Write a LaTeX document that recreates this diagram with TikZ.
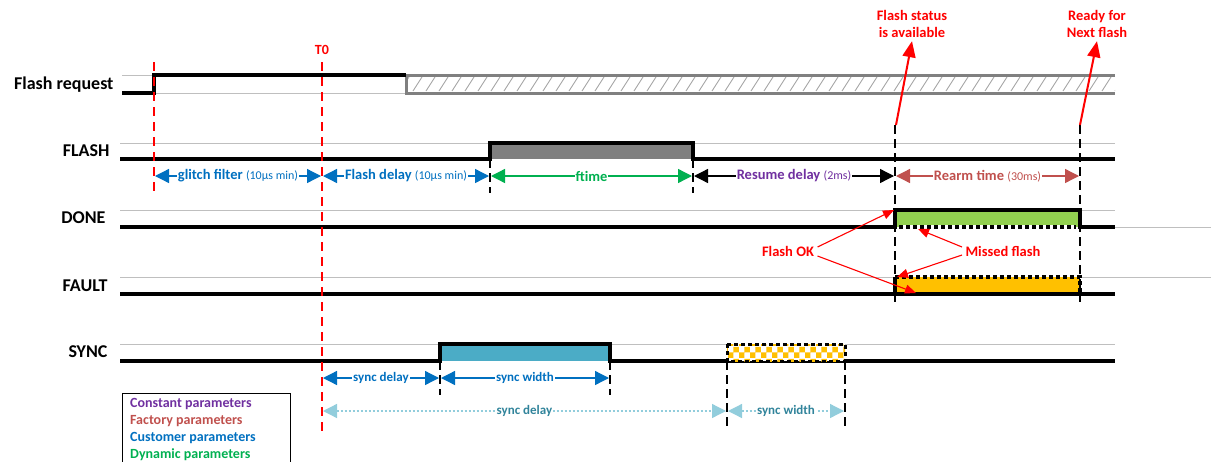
\documentclass[tikz,border=0pt]{standalone}
\usepackage{fontspec}
\setmainfont{Carlito}
\usetikzlibrary{arrows.meta,patterns}
\definecolor{gridgray}{HTML}{BFBFBF}
\definecolor{hatchgray}{HTML}{808080}
\definecolor{hatchline}{HTML}{A6A6A6}
\definecolor{flashgray}{HTML}{7F7F7F}
\definecolor{donegreen}{HTML}{92D050}
\definecolor{faultorange}{HTML}{FFC000}
\definecolor{synccyan}{HTML}{4BACC6}
\definecolor{custblue}{HTML}{0070C0}
\definecolor{dyngreen}{HTML}{00B050}
\definecolor{constpurple}{HTML}{7030A0}
\definecolor{factred}{HTML}{C0504D}
\definecolor{lightsync}{HTML}{92CDDC}
\definecolor{tealtext}{HTML}{31849B}
\begin{document}
\begin{tikzpicture}[x=1pt,y=-1pt,
  gridline/.style={draw=gridgray, line width=1pt},
  sig/.style={line width=3.2pt, line join=miter},
  dimline/.style={<->, >={Triangle[length=14pt,width=14pt]}, line width=1.3pt},
  rdash/.style={red, line width=1.6pt, dash pattern=on 9pt off 6pt},
  kdash/.style={black, line width=1.6pt, dash pattern=on 9pt off 5pt},
  siglbl/.style={anchor=east, font=\bfseries\fontsize{18}{20}\selectfont},
  dimlbl/.style={fill=white, inner sep=1pt, font=\bfseries\fontsize{14.5}{16}\selectfont},
  smallfont/.style={},
  note/.style={red, align=center, font=\bfseries\fontsize{14.5}{17}\selectfont},
  redarrow/.style={red, line width=2pt, -{Triangle[length=16pt,width=13pt]}},
  thinred/.style={red, line width=1.1pt, -{Triangle[length=11pt,width=9pt]}},
  legend/.style={anchor=west, inner sep=0pt, font=\bfseries\fontsize{14}{16}\selectfont}
]
\useasboundingbox (0,0) rectangle (1211,461);
\newcommand{\smalltxt}[1]{{\mdseries\fontsize{12}{14}\selectfont #1}}

% ---------- grid lines ----------
\draw[gridline] (122,75) -- (1115,75);
\draw[gridline] (122,93) -- (1115,93);
\draw[gridline] (120,143) -- (1115,143);
\draw[gridline] (120,210) -- (1115,210);
\draw[gridline] (1115,227) -- (1211,227);
\draw[gridline] (120,277) -- (1211,277);
\draw[gridline] (120,344) -- (1115,344);

% ---------- signal labels ----------
\node[siglbl] (lreq) at (117,85) {Flash request};
\node[siglbl] (lflash) at (113,151) {FLASH};
\node[siglbl] (ldone) at (109,218) {DONE};
\node[siglbl] (lfault) at (111,286) {FAULT};
\node[siglbl] (lsync) at (111,352) {SYNC};

% ---------- Flash request ----------
\begin{scope}
  \clip (406,75) rectangle (1115,93);
  \foreach \x in {400,413,...,1120} \draw[hatchline, line width=0.9pt] (\x,91) -- (\x+9,77);
\end{scope}
\draw[hatchgray, line width=3pt] (1115,75) -- (406,75) -- (406,93) -- (1115,93);
\draw[sig] (122,93) -- (154,93) -- (154,75) -- (406,75);

% ---------- FLASH ----------
\fill[flashgray] (490,143) rectangle (693,159);
\draw[sig] (120,159) -- (490,159) -- (490,143) -- (693,143) -- (693,159) -- (1115,159);

% ---------- DONE ----------
\fill[donegreen] (895,210) rectangle (1080,227);
\draw[sig] (120,227) -- (895,227) -- (895,210) -- (1080,210) -- (1080,227) -- (1115,227);
\draw[line width=3.2pt, white] (899,227) -- (1076,227);
\draw[line width=3.2pt, dash pattern=on 4pt off 3pt] (899,227) -- (1076,227);

% ---------- FAULT ----------
\fill[faultorange] (895,277) rectangle (1080,294);
\draw[sig] (120,294) -- (1115,294);
\draw[sig] (895,294) -- (895,277);
\draw[line width=3.2pt, dash pattern=on 4pt off 3pt] (895,277) -- (1080,277) -- (1080,294);

% ---------- SYNC ----------
\fill[synccyan] (440,344) rectangle (610,361);
\draw[sig] (120,361) -- (440,361) -- (440,344) -- (610,344) -- (610,361) -- (1115,361);
\fill[white] (727,344) rectangle (845,361);
\fill[pattern=checkerboard, pattern color=faultorange] (727,344) rectangle (845,361);
\draw[line width=3pt, dash pattern=on 4pt off 3pt] (727,344) rectangle (845,361);

% ---------- red dashed verticals ----------
\node[red, font=\bfseries\fontsize{14}{16}\selectfont] (t0) at (322,50) {T0};
\draw[rdash] (154,62) -- (154,193);
\draw[rdash] (322,62) -- (322,432);

% ---------- black dashed verticals ----------
\draw[kdash] (490,159) -- (490,193);
\draw[kdash] (693,159) -- (693,193);
\draw[kdash] (895,125) -- (895,305);
\draw[kdash] (1080,125) -- (1080,305);
\draw[kdash] (440,361) -- (440,395);
\draw[kdash] (610,361) -- (610,395);
\draw[kdash] (727,361) -- (727,430);
\draw[kdash] (845,361) -- (845,430);

% ---------- dimension arrows (row 1) ----------
\coordinate (g1) at (155,176);
\coordinate (g2) at (321,176);
\coordinate (f1) at (323,176);
\coordinate (f2) at (489,176);
\coordinate (ft1) at (491,176);
\coordinate (ft2) at (692,176);
\coordinate (r1) at (694,176);
\coordinate (r2) at (894,176);
\coordinate (a1) at (896,176);
\coordinate (a2) at (1079,176);
\draw[dimline, custblue] (g1) -- (g2) node[midway, dimlbl, text=custblue] {glitch filter \smalltxt{(10µs min)}};
\draw[dimline, custblue] (f1) -- (f2) node[midway, dimlbl, text=custblue] {Flash delay \smalltxt{(10µs min)}};
\draw[dimline, dyngreen] (ft1) -- (ft2) node[midway, dimlbl, text=dyngreen] {ftime};
\draw[dimline, black] (r1) -- (r2) node[midway, dimlbl, text=constpurple] {Resume delay \smalltxt{(2ms)}};
\draw[dimline, factred] (a1) -- (a2) node[midway, dimlbl, text=factred] {Rearm time \smalltxt{(30ms)}};

% ---------- sync arrows ----------
\coordinate (sd1) at (323,378);
\coordinate (sd2) at (439,378);
\coordinate (sw1) at (441,378);
\coordinate (sw2) at (609,378);
\coordinate (ld1) at (323,411);
\coordinate (ld2) at (726,411);
\coordinate (lw1) at (728,411);
\coordinate (lw2) at (844,411);
\draw[dimline, custblue] (sd1) -- (sd2) node[midway, dimlbl, text=custblue, font=\bfseries\fontsize{13}{15}\selectfont] {sync delay};
\draw[dimline, custblue] (sw1) -- (sw2) node[midway, dimlbl, text=custblue, font=\bfseries\fontsize{13}{15}\selectfont] {sync width};
\draw[dimline, lightsync, dash pattern=on 2pt off 2pt] (ld1) -- (ld2) node[midway, dimlbl, text=tealtext, font=\bfseries\fontsize{13}{15}\selectfont] {sync delay};
\draw[dimline, lightsync, dash pattern=on 2pt off 2pt] (lw1) -- (lw2) node[midway, dimlbl, text=tealtext, font=\bfseries\fontsize{13}{15}\selectfont] {sync width};

% ---------- annotations ----------
\node[note] (status) at (912,24) {Flash status\\is available};
\node[note] (ready) at (1097,24) {Ready for\\Next flash};
\coordinate (st0) at (896,125);
\coordinate (rd0) at (1080,125);
\draw[redarrow] (st0) -- (status.south);
\draw[redarrow] (rd0) -- (ready.south);

\node[note] (ok) at (788,251) {Flash OK};
\node[note] (missed) at (1003,251) {Missed flash};
\coordinate (okA) at (894,210);
\coordinate (okB) at (916,293);
\coordinate (msA) at (918,229);
\coordinate (msB) at (897,277);
\draw[thinred] (ok.east) ++(0,-4) -- (okA);
\draw[thinred] (ok.east) ++(0,5) -- (okB);
\draw[thinred] (missed.west) ++(0,-4) -- (msA);
\draw[thinred] (missed.west) ++(0,4) -- (msB);

% ---------- legend ----------
\draw[line width=1pt] (122,470) -- (122,393) -- (290,393) -- (290,470);
\node[legend, text=constpurple] (lg1) at (130,404) {Constant parameters};
\node[legend, text=factred] (lg2) at (130,421) {Factory parameters};
\node[legend, text=custblue] (lg3) at (130,438) {Customer parameters};
\node[legend, text=dyngreen] (lg4) at (130,455) {Dynamic parameters};
\end{tikzpicture}
\end{document}
